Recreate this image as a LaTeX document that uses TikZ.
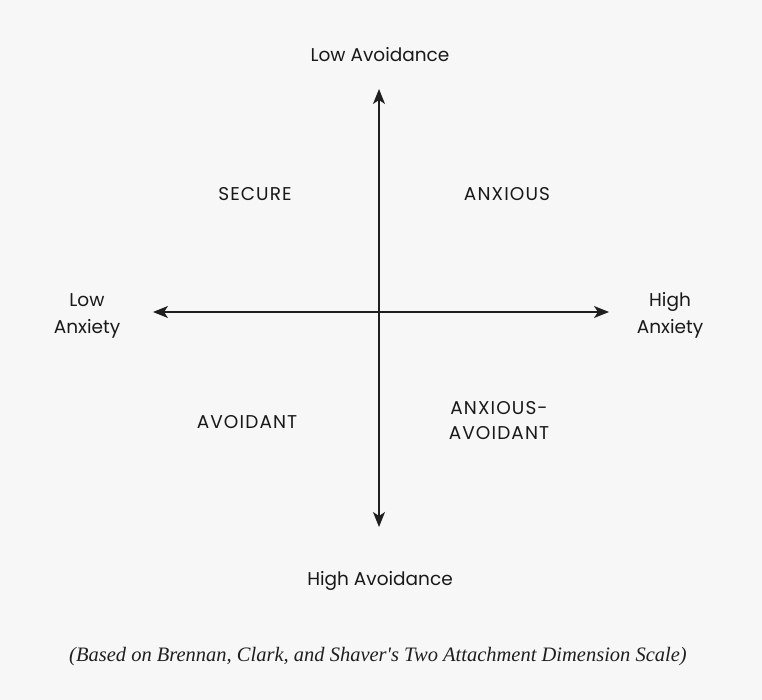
\documentclass[tikz,border=0pt]{standalone}
\usepackage{fontspec}
\setmainfont{Poppins}
\newfontfamily\capsfont{Poppins}[LetterSpace=6]
\newfontfamily\capfont{Liberation Serif}
\usetikzlibrary{arrows.meta}
\begin{document}
\begin{tikzpicture}[x=1pt,y=-1pt,
  lab/.style={font=\fontsize{18.5}{27}\selectfont, text=black!90, align=center, inner sep=0pt},
  quad/.style={font=\capsfont\fontsize{18.5}{25}\selectfont, text=black!90, align=center, inner sep=0pt},
  axis/.style={line width=1.4pt, black!88, {Stealth[length=15pt,width=12pt,inset=4pt]}-{Stealth[length=15pt,width=12pt,inset=4pt]}}]
\fill[white!97!black] (0,0) rectangle (762,700);
\useasboundingbox (0,0) rectangle (762,700);
\coordinate (top) at (379,89);
\coordinate (bot) at (379,527);
\coordinate (lft) at (153,312);
\coordinate (rgt) at (609,312);
\draw[axis] (top) -- (bot);
\draw[axis] (lft) -- (rgt);
\node[lab] (lowav) at (380,55) {Low Avoidance};
\node[lab] (highav) at (380,581) {High Avoidance};
\node[lab] (lowanx) at (87,316) {Low\\Anxiety};
\node[lab] (highanx) at (670,315) {High\\Anxiety};
\node[quad] (secure) at (255,194) {SECURE};
\node[quad] (anxious) at (507,194) {ANXIOUS};
\node[quad] (avoidant) at (247,422) {AVOIDANT};
\node[quad] (anxav) at (499,421) {ANXIOUS-\\AVOIDANT};
\node[font=\capfont\itshape\fontsize{20.5}{24}\selectfont, text=black!88, inner sep=0pt] (cap) at (378,657) {(Based on Brennan, Clark, and Shaver's Two Attachment Dimension Scale)};
\end{tikzpicture}
\end{document}
